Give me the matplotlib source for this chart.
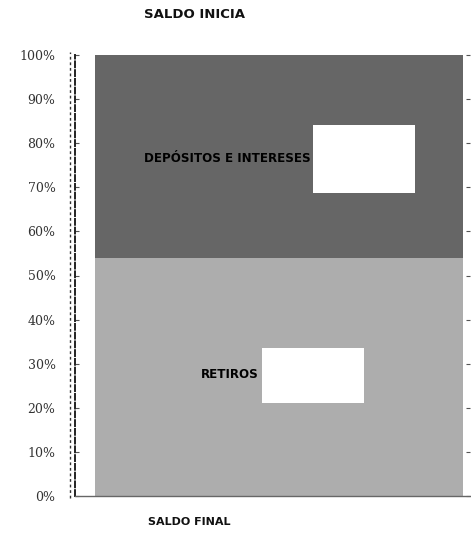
import matplotlib
matplotlib.use("Agg")
import matplotlib.pyplot as plt
import matplotlib.patches as patches
import matplotlib.transforms as mtransforms
from matplotlib.lines import Line2D
import numpy as np

# datos del grafico (100% apilado, una sola barra)
segmentos = ["RETIROS", "DEPÓSITOS E INTERESES"]
porcentajes = [54, 46]
colores = ["#adadad", "#666666"]
ticks = [0, 10, 20, 30, 40, 50, 60, 70, 80, 90, 100]
etiquetas_ticks = [str(t) + "%" for t in ticks]
titulo_sup = "SALDO INICIA"
titulo_inf = "SALDO FINAL"

fig = plt.figure(figsize=(4.71, 5.33), dpi=100)
W, H = 471, 533
ax = fig.add_axes([75 / W, 1 - 496 / H, 395 / W, 441 / H])

ax.set_xlim(-0.5543, 0.5194)
ax.set_ylim(0, 100)

abajo = 0
centros = []
for nombre, p, c in zip(segmentos, porcentajes, colores):
    ax.bar([0], [p], bottom=abajo, width=1.0, color=c, edgecolor="none")
    centros.append(abajo + p / 2)
    abajo += p

# etiquetas con caja blanca (valor tapado), offsets en pixeles
cfg = [
    # texto_dx, texto_dy, caja(x, y, w, h)
    (-20, 2, (-17, -26, 102, 55)),
    (32, -2, (34, -37, 102, 68)),
]
for nombre, yc, (tdx, tdy, caja) in zip(segmentos, centros, cfg):
    tr = mtransforms.ScaledTranslation(0, yc, ax.transData)
    ax.add_patch(patches.Rectangle(caja[:2], caja[2], caja[3], transform=tr,
                                   facecolor="white", edgecolor="none", zorder=3))
    ax.text(tdx, tdy, nombre, transform=tr, ha="right", va="center",
            fontsize=8.6, fontweight="bold", color="black", zorder=4)

ax.set_yticks(ticks)
ax.set_yticklabels(etiquetas_ticks, family="DejaVu Serif", fontsize=9, color="#333333")
ax.set_xticks([])
ax.tick_params(axis="y", direction="in", length=3, width=0.8, color="#555555",
               pad=14, right=True)

for s in ["top", "right"]:
    ax.spines[s].set_visible(False)
ax.spines["left"].set_linestyle((0, (3, 1.5)))
ax.spines["left"].set_linewidth(1.4)
ax.spines["left"].set_color("#222222")
ax.spines["bottom"].set_linestyle((0, (1, 1)))
ax.spines["bottom"].set_linewidth(1.0)
ax.spines["bottom"].set_color("#666666")

# segunda linea del eje (doble trazo del escaneo)
fig.add_artist(Line2D([70 / W, 70 / W], [1 - 498 / H, 1 - 52 / H], color="#333333",
                      linewidth=1.0, linestyle=(0, (2, 2))))

fig.text(195 / W, 1 - 15 / H, titulo_sup, ha="center", va="center",
         fontsize=9.5, fontweight="bold", color="#111111")
fig.text(189 / W, 1 - 522 / H, titulo_inf, ha="center", va="center",
         fontsize=8, fontweight="bold", color="#111111")

fig.savefig("out.png", dpi=100)
